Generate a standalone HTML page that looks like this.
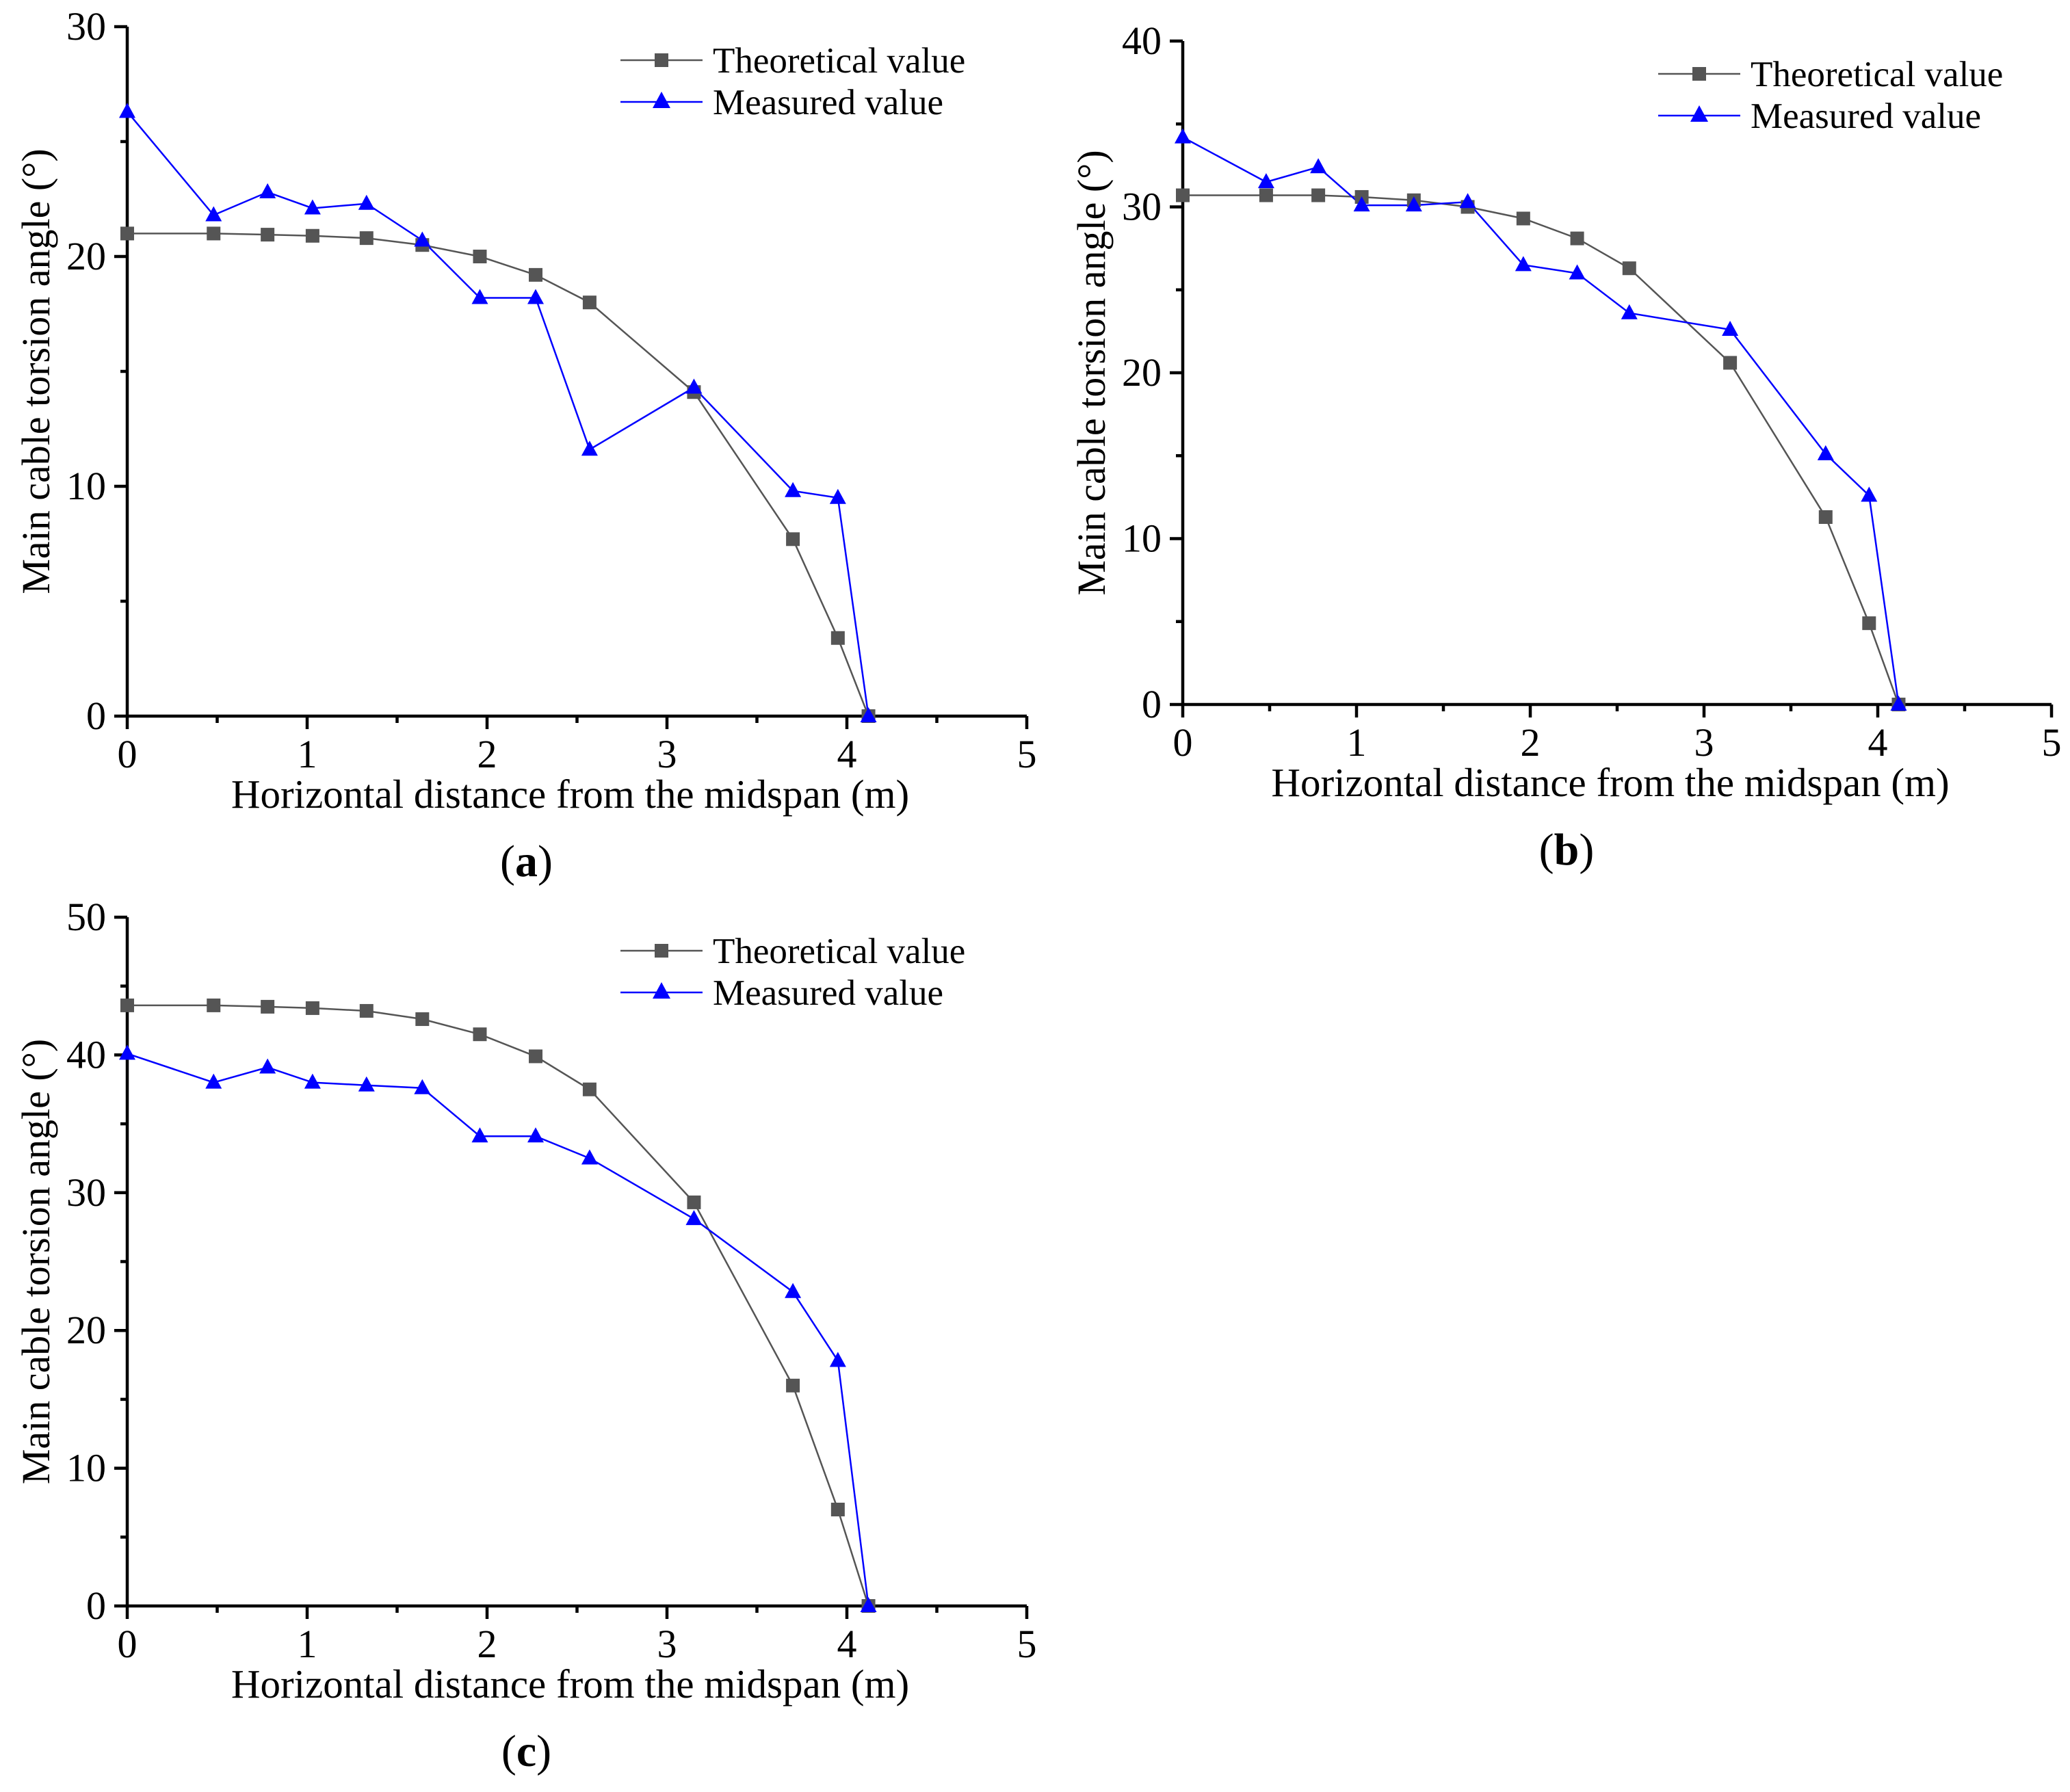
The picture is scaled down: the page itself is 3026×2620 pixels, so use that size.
<!DOCTYPE html>
<html><head><meta charset="utf-8"><style>
html,body{margin:0;padding:0;background:#fff;}
svg{display:block;}
svg text{font-family:"Liberation Serif","DejaVu Serif","Times New Roman",serif;}
</style></head><body>
<svg id="fig" width="3026" height="2620" viewBox="0 0 3026 2620" xmlns="http://www.w3.org/2000/svg" font-family="Liberation Serif, serif"></svg>
<script>
const xValues=[0,0.48,0.78,1.03,1.33,1.64,1.96,2.27,2.57,3.15,3.70,3.95,4.12];
const theoA=[21.0,21.0,20.95,20.9,20.8,20.5,20.0,19.2,18.0,14.1,7.7,3.4,0];
const measA=[26.3,21.8,22.8,22.1,22.3,20.7,18.2,18.2,11.6,14.3,9.8,9.5,0];
const theoB=[30.7,30.7,30.7,30.6,30.4,30.0,29.3,28.1,26.3,20.6,11.3,4.9,0];
const measB=[34.2,31.5,32.4,30.1,30.1,30.3,26.5,26.0,23.6,22.6,15.1,12.6,0];
const theoC=[43.6,43.6,43.5,43.4,43.2,42.6,41.5,39.9,37.5,29.3,16.0,7.0,0];
const measC=[40.1,38.0,39.1,38.0,37.8,37.6,34.1,34.1,32.5,28.1,22.8,17.8,0];
const xTicks=[0,1,2,3,4,5];
const yTicksA=[0,10,20,30];
const yTicksB=[0,10,20,30,40];
const yTicksC=[0,10,20,30,40,50];
const seriesNames=["Theoretical value","Measured value"];

const NS="http://www.w3.org/2000/svg";
const svg=document.getElementById('fig');
function mk(tag,attrs,parent,text){const e=document.createElementNS(NS,tag);for(const k in attrs)e.setAttribute(k,attrs[k]);if(tag==='text')e.setAttribute('font-family','Liberation Serif, serif');if(text!==undefined)e.textContent=text;(parent||svg).appendChild(e);return e;}

function panel(id,L,R,T,B,yMax,yTicks,theo,meas,legX,legY,label){
  const g=mk('g',{});
  
  
  const xs=v=>L+(v/5)*(R-L);
  const ys=v=>B-(v/yMax)*(B-T);
  const ax=mk('path',{d:`M${L},${T} L${L},${B} L${R},${B}`,fill:'none',stroke:'#000','stroke-width':4.5},g);
  
  
  for(let i=0;i<xTicks.length;i++){
    const v=xTicks[i];
    const t=mk('line',{x1:xs(v),x2:xs(v),y1:B,y2:B+19,stroke:'#000','stroke-width':4.5},g);
    
    
    if(i<xTicks.length-1){const m=(v+xTicks[i+1])/2;mk('line',{x1:xs(m),x2:xs(m),y1:B,y2:B+10,stroke:'#000','stroke-width':4.5},g);}
    const tl=mk('text',{x:xs(v),y:B+75,'font-size':58,'text-anchor':'middle'},g,String(v));
    
    
  }
  for(let i=0;i<yTicks.length;i++){
    const v=yTicks[i];
    const t=mk('line',{x1:L-19,x2:L,y1:ys(v),y2:ys(v),stroke:'#000','stroke-width':4.5},g);
    
    
    if(i<yTicks.length-1){const m=(v+yTicks[i+1])/2;mk('line',{x1:L-10,x2:L,y1:ys(m),y2:ys(m),stroke:'#000','stroke-width':4.5},g);}
    const tl=mk('text',{x:L-31,y:ys(v)+19,'font-size':58,'text-anchor':'end'},g,String(v));
    
    
  }
  const xt=mk('text',{x:(L+R)/2-10,y:B+134,'font-size':59,'text-anchor':'middle'},g,'Horizontal distance from the midspan (m)');
  
  
  const cy=(T+B)/2, cx=L-114;
  const yt=mk('text',{x:cx,y:cy,'font-size':58,'text-anchor':'middle',transform:`rotate(-90 ${cx} ${cy})`},g,'Main cable torsion angle (°)');
  
  
  const tp=xValues.map((x,i)=>xs(x)+','+ys(theo[i])).join(' ');
  const tl=mk('polyline',{points:tp,fill:'none',stroke:'#555','stroke-width':2.5},g);
  
  
  const mp=xValues.map((x,i)=>xs(x)+','+ys(meas[i])).join(' ');
  const ml=mk('polyline',{points:mp,fill:'none',stroke:'#0000ff','stroke-width':2.5},g);
  
  
  xValues.forEach((x,i)=>{
    const s=mk('rect',{x:xs(x)-10,y:ys(theo[i])-10,width:20,height:20,fill:'#555'},g);
    
    
  });
  xValues.forEach((x,i)=>{
    const px=xs(x),py=ys(meas[i]);
    const p=mk('polygon',{points:`${px},${py-13} ${px-12},${py+9} ${px+12},${py+9}`,fill:'#0000ff'},g);
    
    
  });
  const lg=mk('g',{},g);
  
  
  mk('line',{x1:legX,x2:legX+120,y1:legY,y2:legY,stroke:'#555','stroke-width':2.5},lg);
  mk('rect',{x:legX+50,y:legY-10,width:20,height:20,fill:'#555'},lg);
  const l1=mk('text',{x:legX+135,y:legY+18,'font-size':53},lg,seriesNames[0]);
  
  
  const y2=legY+61;
  mk('line',{x1:legX,x2:legX+120,y1:y2,y2:y2,stroke:'#0000ff','stroke-width':2.5},lg);
  mk('polygon',{points:`${legX+60},${y2-15} ${legX+47},${y2+9} ${legX+73},${y2+9}`,fill:'#0000ff'},lg);
  const l2=mk('text',{x:legX+135,y:y2+18,'font-size':53},lg,seriesNames[1]);
  
  
  const pl=mk('text',{x:(L+R)/2-74,y:B+234,'font-size':66,'text-anchor':'middle'},g);
  
  
  mk('tspan',{},pl,'(');
  mk('tspan',{'font-weight':'bold'},pl,label);
  mk('tspan',{},pl,')');
}
panel('a',186,1501,39,1047,30,yTicksA,theoA,measA,907,88,'a');
panel('b',1729,2999,60,1030,40,yTicksB,theoB,measB,2424,108,'b');
panel('c',186,1501,1341,2348,50,yTicksC,theoC,measC,907,1390,'c');
</script>
</body></html>
